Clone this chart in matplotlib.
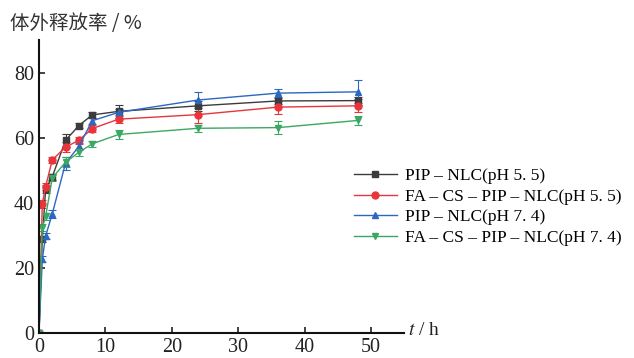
import matplotlib
matplotlib.use('Agg')
import matplotlib.pyplot as plt
import numpy as np

# ----------------------------------------------------------------------
#   Data
# ----------------------------------------------------------------------

time_h = [0, 0.5, 1, 2, 4, 6, 8, 12, 24, 36, 48]  # [h]

pip_55     = [0, 28.9, 44.3, 48.0, 59.2, 63.7, 67.0, 68.1, 69.8, 71.3, 71.4]
pip_55_err = [0, 1.0, 1.2, 1.0, 2.0, 0.8, 0.8, 2.0, 1.5, 1.0, 1.2]

fa_55      = [0, 39.7, 45.0, 53.2, 57.1, 59.2, 62.8, 65.7, 67.1, 69.4, 69.8]
fa_55_err  = [0, 1.2, 1.0, 1.0, 1.5, 1.0, 1.0, 1.2, 2.5, 2.0, 2.0]

pip_74     = [0, 22.7, 29.8, 36.6, 52.2, 57.3, 65.2, 67.8, 71.6, 73.7, 74.1]
pip_74_err = [0, 1.0, 1.0, 1.2, 2.0, 1.0, 1.0, 1.0, 2.5, 1.2, 3.5]

fa_74      = [0, 32.4, 35.8, 47.6, 52.5, 55.5, 58.1, 61.0, 62.9, 63.1, 65.3]
fa_74_err  = [0, 1.0, 1.0, 1.0, 1.5, 1.0, 1.0, 1.5, 1.0, 2.0, 1.5]

labels = ['PIP – NLC(pH 5. 5)',
          'FA – CS – PIP – NLC(pH 5. 5)',
          'PIP – NLC(pH 7. 4)',
          'FA – CS – PIP – NLC(pH 7. 4)']

x_ticks = [0, 10, 20, 30, 40, 50]
y_ticks = [0, 20, 40, 60, 80]

# ----------------------------------------------------------------------
#   Plot
# ----------------------------------------------------------------------

plt.rcParams['font.family'] = ['Liberation Serif', 'Noto Sans CJK SC']
plt.rcParams['mathtext.fontset'] = 'stix'

fig = plt.figure(figsize=(6.34, 3.58), dpi=100)
ax = fig.add_axes([0.0615, 0.070, 0.576, 0.818])

series = [
    (pip_55, pip_55_err, '#3c3c3c', 's'),
    (fa_55,  fa_55_err,  '#e8353b', 'o'),
    (pip_74, pip_74_err, '#2b68c2', '^'),
    (fa_74,  fa_74_err,  '#3aa862', 'v'),
]
handles = []
for (vals, err, color, mk), lab in zip(series, labels):
    cont = ax.errorbar(time_h, vals, yerr=err, color=color, marker=mk, markersize=5,
                       linewidth=1.0, elinewidth=0.8, capsize=3, capthick=0.8, label=lab)
    handles.append(cont[0])

ax.set_xlim(0, 55)
ax.set_ylim(0, 90)
ax.set_xticks(x_ticks)
ax.set_yticks(y_ticks)
ax.tick_params(direction='in', length=4, width=1.2, labelsize=14.5, colors='#222222')
ax.tick_params(axis='x', pad=4)
for side in ['top', 'right']:
    ax.spines[side].set_visible(False)
for side in ['left', 'bottom']:
    ax.spines[side].set_linewidth(1.5)
    ax.spines[side].set_color('#111111')

fig.text(0.015, 0.935, '体外释放率 / %', fontsize=14,
         family=['Noto Sans CJK SC', 'DejaVu Sans'], color='#333333', va='center')
fig.text(0.643, 0.078, r'$t$ / h', fontsize=14, color='#222222', va='center')

ax.legend(handles, labels, loc='upper left', bbox_to_anchor=(0.558, 0.53),
          bbox_transform=fig.transFigure, frameon=False,
          fontsize=12.5, handlelength=2.5, handletextpad=0.45, labelspacing=0.25,
          borderaxespad=0, borderpad=0)

fig.savefig('out.png', dpi=100)
